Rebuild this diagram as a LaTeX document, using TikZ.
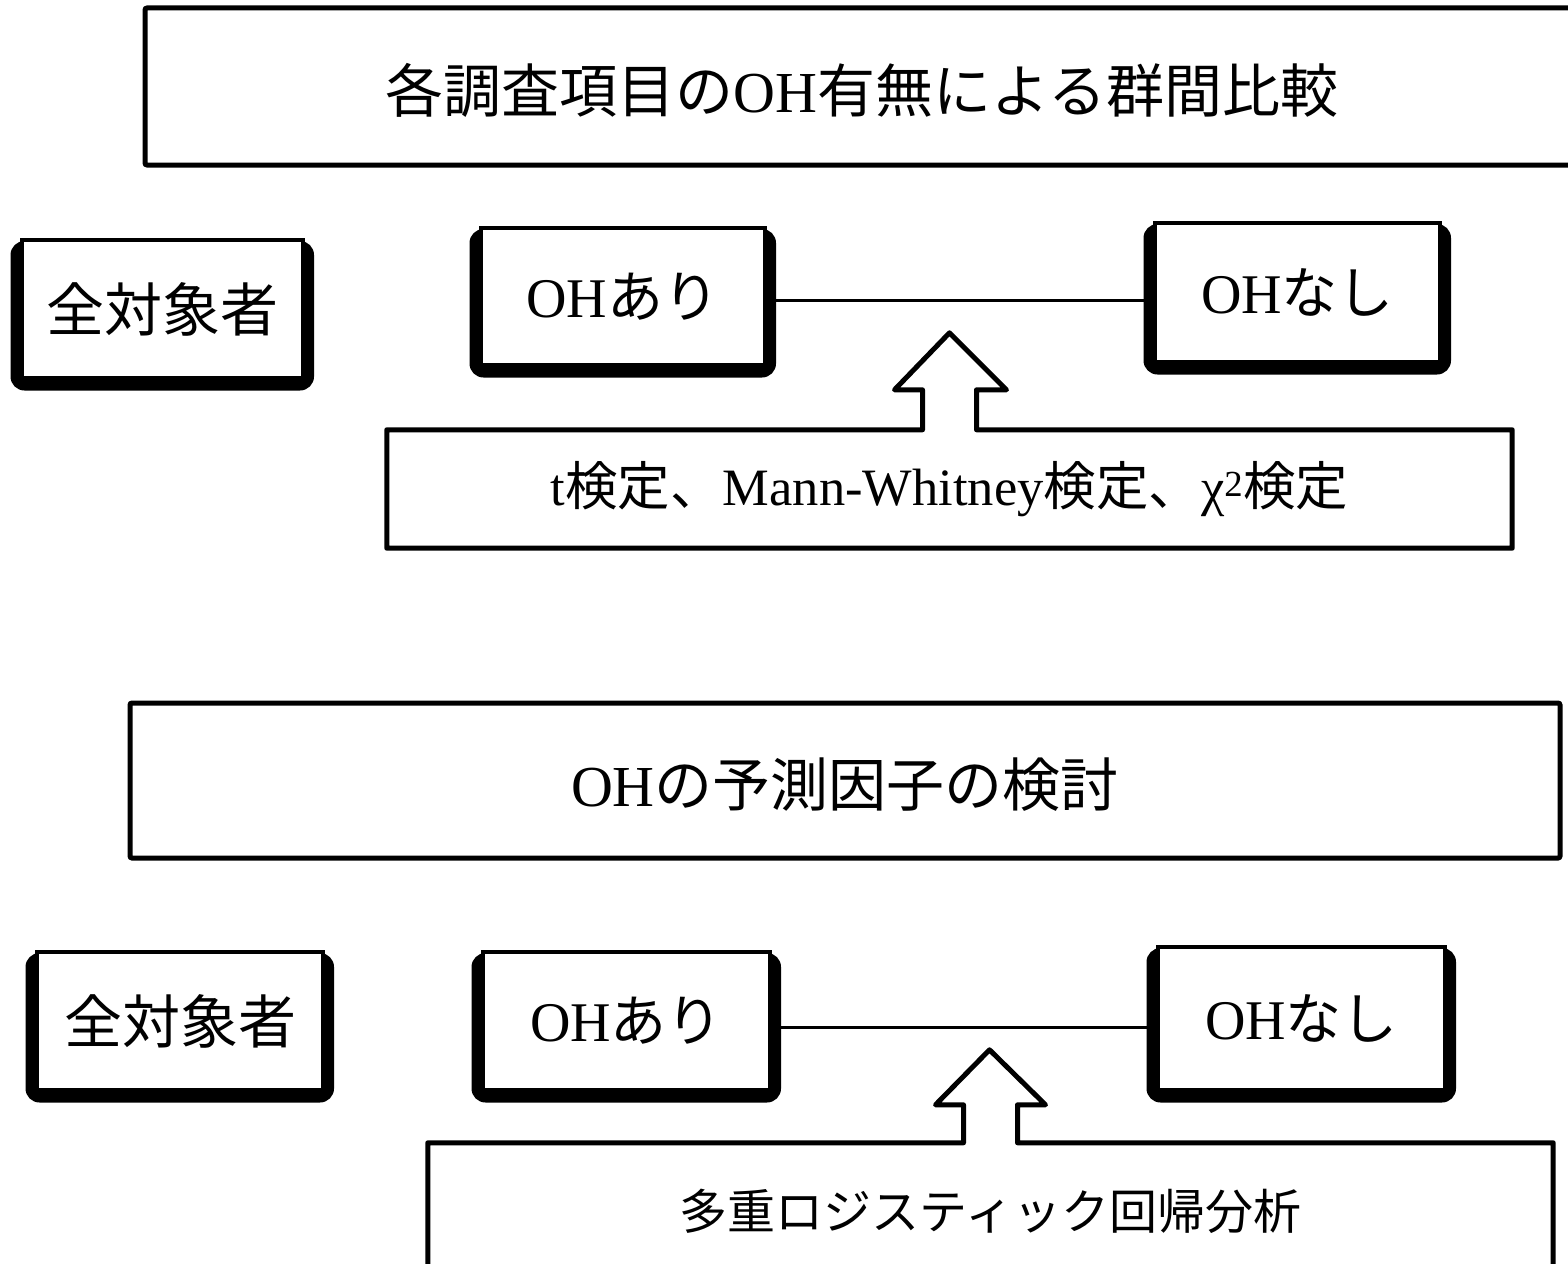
\documentclass[tikz,border=0pt]{standalone}
\usepackage{fontspec}
\setmainfont{Liberation Serif}
\newfontfamily\jp{Noto Sans CJK JP}
\usetikzlibrary{calc,backgrounds}
\tikzset{
  headbox/.style={draw, line width=5pt, rounded corners=2pt, fill=white},
  framebox/.style={draw, line width=4pt, fill=white, inner sep=0pt},
  testbox/.style={inner sep=0pt},
  link/.style={line width=3pt},
  arrowbox/.style={line width=5pt, line join=round},
  outerframe/.style={fill=black, rounded corners=14pt},
}
\newcommand{\bigfs}{\fontsize{56}{60}\selectfont}
\newcommand{\headfs}{\fontsize{58}{62}\selectfont}
\newcommand{\midfs}{\fontsize{52.5}{56}\selectfont}
\newcommand{\frameback}[1]{%
  \begin{scope}[on background layer]
    \fill[outerframe] ([xshift=-9.5pt,yshift=-3pt]#1.north west) rectangle ([xshift=9pt,yshift=-10.5pt]#1.south east);
  \end{scope}}
\begin{document}
\begin{tikzpicture}[x=1pt,y=-1pt]
\useasboundingbox (0,0) rectangle (1568,1263);
\begin{scope}[on background layer]
\fill[white] (0,0) rectangle (1568,1263);
\end{scope}

% ---- section 1 ----
\node[headbox, minimum width=1435pt, minimum height=157pt] (head1) at (862.5,86.5) {};
\node[font=\headfs] (head1t) at (862,90) {{\jp 各調査項目の}OH{\jp 有無による群間比較}};

\node[framebox, minimum width=281pt, minimum height=138pt, font=\fontsize{58}{62}\selectfont] (all1) at (162.5,309) {\jp 全対象者};
\node[framebox, minimum width=284pt, minimum height=137pt, font=\bigfs] (ari1) at (623,296.5) {OH{\jp あり}};
\node[framebox, minimum width=285pt, minimum height=139pt, font=\bigfs] (nashi1) at (1297.5,292.5) {OH{\jp なし}};
\frameback{all1}\frameback{ari1}\frameback{nashi1}
\draw[link] ([xshift=4pt,yshift=-3.5pt]ari1.east) -- ([yshift=-3.5pt]ari1.east -| nashi1.west);

\node[testbox, minimum width=1125pt, minimum height=118pt, font=\midfs] (test1) at (949.5,489)
  {\raisebox{-3pt}{t{\jp 検定、}Mann-Whitney{\jp 検定、}χ\textsuperscript{2}{\jp 検定}}};
\draw[arrowbox] (test1.north west)
  -- ($(test1.north)+(-27,0)$) -- ($(test1.north)+(-27,-40)$) -- ($(test1.north)+(-55,-40)$)
  -- ($(test1.north)+(0,-97)$) -- ($(test1.north)+(57,-40)$) -- ($(test1.north)+(27,-40)$)
  -- ($(test1.north)+(27,0)$) -- (test1.north east) -- (test1.south east) -- (test1.south west) -- cycle;

% ---- section 2 ----
\node[headbox, minimum width=1430pt, minimum height=155pt] (head2) at (845,780.5) {};
\node[font=\headfs] (head2t) at (845,785) {OH{\jp の予測因子の検討}};

\node[framebox, minimum width=286pt, minimum height=138pt, font=\fontsize{58}{62}\selectfont] (all2) at (180,1021) {\jp 全対象者};
\node[framebox, minimum width=287pt, minimum height=138pt, font=\bigfs] (ari2) at (626.5,1021) {OH{\jp あり}};
\node[framebox, minimum width=287pt, minimum height=143pt, font=\bigfs] (nashi2) at (1301.5,1018.5) {OH{\jp なし}};
\frameback{all2}\frameback{ari2}\frameback{nashi2}
\draw[link] ([xshift=4pt,yshift=-6pt]ari2.east) -- ([yshift=-6pt]ari2.east -| nashi2.west);

\node[testbox, minimum width=1125pt, minimum height=137pt, font=\fontsize{48}{52}\selectfont] (test2) at (990.5,1211.5)
  {\jp 多重ロジスティック回帰分析};
\draw[arrowbox] (test2.north west)
  -- ($(test2.north)+(-27,0)$) -- ($(test2.north)+(-27,-38)$) -- ($(test2.north)+(-55,-38)$)
  -- ($(test2.north)+(-1,-93)$) -- ($(test2.north)+(55,-38)$) -- ($(test2.north)+(27,-38)$)
  -- ($(test2.north)+(27,0)$) -- (test2.north east) -- (test2.south east) -- (test2.south west) -- cycle;
\end{tikzpicture}
\end{document}
